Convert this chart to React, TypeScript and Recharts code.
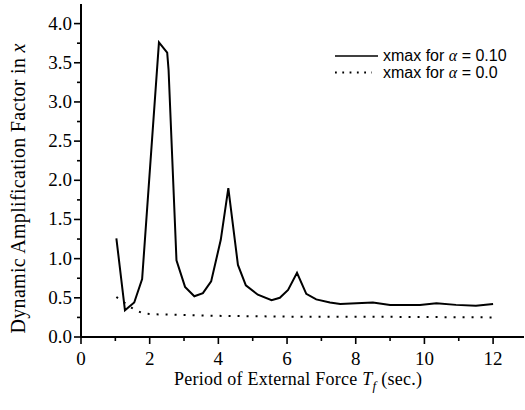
import React from 'react';
import { LineChart, Line, XAxis, YAxis, Legend } from 'recharts';

// Response with damping (alpha = 0.10)
const dampedPeriods = [
  1.03, 1.28, 1.55, 1.78, 2.27, 2.51, 2.55, 2.78, 3.03, 3.3, 3.55, 3.79, 4.07, 4.29, 4.57, 4.8, 5.15,
  5.55, 5.79, 6.03, 6.29, 6.56, 6.85, 7.25, 7.55, 8.02, 8.5, 9.0, 9.87, 10.35, 10.92, 11.5, 12.0,
];
const dampedXmax = [
  1.26, 0.34, 0.44, 0.74, 3.76, 3.63, 3.41, 0.98, 0.64, 0.52, 0.56, 0.71, 1.24, 1.9, 0.92, 0.66, 0.54,
  0.47, 0.5, 0.6, 0.82, 0.55, 0.48, 0.44, 0.42, 0.43, 0.44, 0.41, 0.41, 0.43, 0.41, 0.4, 0.42,
];

// Response without damping (alpha = 0.0)
const undampedPeriods = [1.03, 1.55, 1.82, 2.1, 2.6, 3.0, 4.0, 5.0, 6.0, 8.0, 10.0, 12.0];
const undampedXmax = [0.51, 0.35, 0.3, 0.29, 0.285, 0.28, 0.27, 0.265, 0.26, 0.26, 0.255, 0.25];

const xTicks = [0, 1, 2, 3, 4, 5, 6, 7, 8, 9, 10, 11, 12];
const yTicks = [0, 0.25, 0.5, 0.75, 1, 1.25, 1.5, 1.75, 2, 2.25, 2.5, 2.75, 3, 3.25, 3.5, 3.75, 4];

const dampedData = dampedPeriods.map((t, i) => ({ t, v: dampedXmax[i] }));
const undampedData = undampedPeriods.map((t, i) => ({ t, v: undampedXmax[i] }));

const SERIF = 'Liberation Serif';
const SANS = 'Liberation Sans';

// even periods get a label and a longer tick
const renderXTick = (props: any) => {
  const { x, y, payload } = props;
  const v = payload.value as number;
  const major = v % 2 === 0;
  return (
    <g key={`xt-${v}`}>
      <line x1={x} x2={x} y1={y} y2={y + (major ? 7 : 4)} stroke="#000" strokeWidth={1.6} />
      {major && (
        <text x={x} y={y + 28} textAnchor="middle" fontFamily={SERIF} fontSize={19} fill="#000">
          {String(v)}
        </text>
      )}
    </g>
  );
};

// labels every 0.5, minor ticks every 0.25
const renderYTick = (props: any) => {
  const { x, y, payload } = props;
  const v = payload.value as number;
  const major = Math.abs(v * 2 - Math.round(v * 2)) < 1e-6;
  return (
    <g key={`yt-${v}`}>
      <line x1={x} x2={x - (major ? 7 : 4)} y1={y} y2={y} stroke="#000" strokeWidth={1.6} />
      {major && (
        <text x={x - 9} y={y + 6} textAnchor="end" fontFamily={SERIF} fontSize={19} fill="#000">
          {v.toFixed(1)}
        </text>
      )}
    </g>
  );
};

const YLabel = (props: any) => {
  const { viewBox } = props;
  const cx = viewBox.x + 18;
  const cy = viewBox.y + viewBox.height / 2 + 18;
  return (
    <text
      x={cx}
      y={cy}
      transform={`rotate(-90 ${cx} ${cy})`}
      textAnchor="middle"
      dominantBaseline="central"
      textLength={290}
      lengthAdjust="spacing"
      fontFamily={SERIF}
      fontSize={20}
      fill="#000"
    >
      Dynamic Amplification Factor in <tspan fontStyle="italic">x</tspan>
    </text>
  );
};

const XLabel = (props: any) => {
  const { viewBox } = props;
  const cx = viewBox.x + 217;
  return (
    <text
      x={cx}
      y={viewBox.y + 48}
      textAnchor="middle"
      textLength={248}
      lengthAdjust="spacing"
      fontFamily={SERIF}
      fontSize={18}
      fill="#000"
    >
      Period of External Force <tspan fontStyle="italic">T</tspan>
      <tspan fontStyle="italic" fontSize={13} dy={5}>f</tspan>
      <tspan dy={-5}> (sec.)</tspan>
    </text>
  );
};

// solid entry first, dotted entry below it
const renderLegend = (props: any) => {
  const entries = [...(props.payload || [])].sort(
    (a: any, b: any) => (a.payload?.strokeDasharray ? 1 : 0) - (b.payload?.strokeDasharray ? 1 : 0)
  );
  return (
    <svg width={195} height={40}>
      {entries.map((entry: any, i: number) => {
        const y = 10 + i * 16.5;
        const dotted = entry.payload && entry.payload.strokeDasharray;
        return (
          <g key={entry.value}>
            <line
              x1={5}
              x2={dotted ? 42 : 48}
              y1={y}
              y2={y}
              stroke="#000"
              strokeWidth={dotted ? 1.8 : 1.6}
              strokeDasharray={dotted ? '1.8 5.5' : undefined}
            />
            <text x={53} y={y + 5} fontFamily={SANS} fontSize={16} fill="#000">
              xmax for <tspan fontFamily={SERIF} fontStyle="italic">α</tspan> = {entry.value}
            </text>
          </g>
        );
      })}
    </svg>
  );
};

export default function App() {
  return (
    <div style={{ position: 'absolute', left: 0, top: 0, background: '#fff' }}>
      <LineChart width={525} height={410} margin={{ top: 4, right: 1, bottom: 0, left: 0 }}>
        <XAxis
          type="number"
          dataKey="t"
          domain={[0, 12.9]}
          ticks={xTicks}
          allowDuplicatedCategory={false}
          interval={0}
          tick={renderXTick}
          tickLine={false}
          tickSize={0}
          tickMargin={0}
          axisLine={{ stroke: '#000', strokeWidth: 2 }}
          height={73}
          label={<XLabel />}
        />
        <YAxis
          type="number"
          domain={[0, 4.25]}
          ticks={yTicks}
          interval={0}
          width={81}
          tick={renderYTick}
          tickLine={false}
          tickSize={0}
          tickMargin={0}
          axisLine={{ stroke: '#000', strokeWidth: 2 }}
          label={<YLabel />}
        />
        <Legend
          layout="horizontal"
          verticalAlign="middle"
          align="center"
          content={renderLegend}
          wrapperStyle={{ position: 'absolute', top: 46, left: 330, width: 195, height: 40 }}
        />
        <Line
          data={dampedData}
          dataKey="v"
          name="0.10"
          type="linear"
          stroke="#000"
          strokeWidth={2}
          dot={false}
          activeDot={false}
          isAnimationActive={false}
        />
        <Line
          data={undampedData}
          dataKey="v"
          name="0.0"
          type="linear"
          stroke="#000"
          strokeWidth={2}
          strokeDasharray="2 7"
          dot={false}
          activeDot={false}
          isAnimationActive={false}
        />
      </LineChart>
    </div>
  );
}
